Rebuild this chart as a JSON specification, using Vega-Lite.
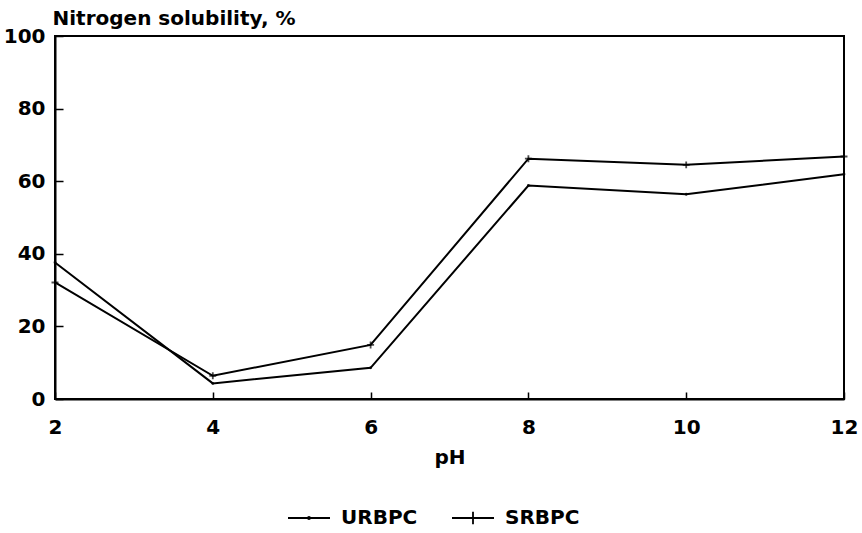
{
  "$schema": "https://vega.github.io/schema/vega-lite/v6.json",
  "width": 789,
  "height": 363,
  "autosize": {"type": "none"},
  "padding": {"left": 55, "top": 36, "right": 18, "bottom": 134},
  "background": "white",
  "config": {
    "view": {"stroke": "black", "strokeWidth": 2},
    "font": "DejaVu Sans",
    "axis": {
      "domainColor": "black",
      "domainWidth": 2,
      "ticks": false,
      "gridColor": "black",
      "gridOpacity": 1,
      "gridWidth": 1.5,
      "labelFont": "DejaVu Sans",
      "labelFontWeight": "bold",
      "labelFontSize": 20,
      "labelColor": "black",
      "titleFont": "DejaVu Sans",
      "titleFontWeight": "bold",
      "titleFontSize": 20,
      "titleColor": "black"
    }
  },
  "data": {
    "values": [
      {"pH": 2, "solubility": 37.6, "series": "URBPC"},
      {"pH": 4, "solubility": 4.3, "series": "URBPC"},
      {"pH": 6, "solubility": 8.6, "series": "URBPC"},
      {"pH": 8, "solubility": 58.8, "series": "URBPC"},
      {"pH": 10, "solubility": 56.4, "series": "URBPC"},
      {"pH": 12, "solubility": 61.9, "series": "URBPC"},
      {"pH": 2, "solubility": 32.1, "series": "SRBPC"},
      {"pH": 4, "solubility": 6.4, "series": "SRBPC"},
      {"pH": 6, "solubility": 14.9, "series": "SRBPC"},
      {"pH": 8, "solubility": 66.2, "series": "SRBPC"},
      {"pH": 10, "solubility": 64.5, "series": "SRBPC"},
      {"pH": 12, "solubility": 66.8, "series": "SRBPC"}
    ]
  },
  "resolve": {
    "scale": {"shape": "independent"},
    "legend": {"shape": "independent"}
  },
  "encoding": {
    "x": {
      "field": "pH",
      "type": "quantitative",
      "scale": {"domain": [2, 12], "nice": false, "zero": false},
      "axis": {
        "orient": "bottom",
        "values": [2, 4, 6, 8, 10, 12],
        "grid": true,
        "gridDash": [0, 356, 7, 2000],
        "labelPadding": 18,
        "title": "pH",
        "titleY": 64,
        "titleBaseline": "alphabetic",
        "labelFlush": false
      }
    },
    "y": {
      "field": "solubility",
      "type": "quantitative",
      "scale": {"domain": [0, 100], "nice": false},
      "axis": {
        "orient": "left",
        "values": [0, 20, 40, 60, 80, 100],
        "grid": true,
        "gridDash": [0.01, 0.01, 8, 2000],
        "labelPadding": 10,
        "title": "Nitrogen solubility, %",
        "titleAngle": 0,
        "titleX": -3,
        "titleY": -12,
        "titleAlign": "left",
        "titleBaseline": "alphabetic",
        "labelFlush": false
      }
    }
  },
  "layer": [
    {
      "mark": {"type": "line", "color": "black", "strokeWidth": 2},
      "encoding": {"detail": {"field": "series"}}
    },
    {
      "mark": {"type": "point", "color": "black", "filled": false, "strokeWidth": 1.8, "size": 60},
      "encoding": {
        "shape": {
          "field": "series",
          "type": "nominal",
          "scale": {
            "domain": ["URBPC", "SRBPC"],
            "range": ["M-0.15,0a0.15,0.15 0 1,0 0.3,0a0.15,0.15 0 1,0 -0.3,0", "M-0.9,0H0.9M0,-0.9V0.9"]
          },
          "legend": null
        }
      }
    },
    {
      "mark": {"type": "point", "color": "black", "filled": false, "strokeWidth": 1.8, "size": 1},
      "encoding": {
        "shape": {
          "field": "series",
          "type": "nominal",
          "scale": {
            "domain": ["URBPC", "SRBPC"],
            "range": ["M-1,0H1M-0.05,0a0.05,0.05 0 1,0 0.1,0a0.05,0.05 0 1,0 -0.1,0", "M-1,0H1M0,-0.3V0.3"]
          },
          "legend": {
            "title": null,
            "orient": "none",
            "direction": "horizontal",
            "legendX": 232,
            "legendY": 460,
            "symbolSize": 1764,
            "symbolStrokeWidth": 1.8,
            "symbolStrokeColor": "black",
            "symbolFillColor": "transparent",
            "symbolOpacity": 1,
            "labelFont": "DejaVu Sans",
            "labelFontWeight": "bold",
            "labelFontSize": 20,
            "labelColor": "black",
            "labelOffset": 10,
            "columnPadding": 30
          }
        }
      }
    }
  ]
}
